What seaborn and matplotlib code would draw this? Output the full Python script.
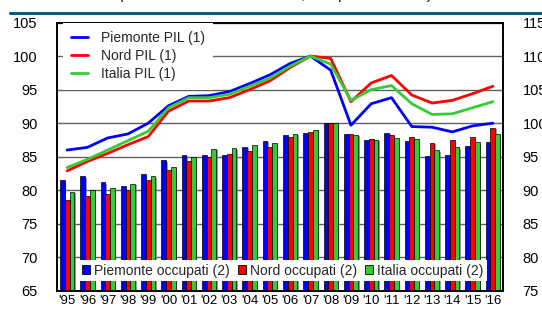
import matplotlib
matplotlib.use("Agg")
import matplotlib.pyplot as plt
import matplotlib.patheffects as pe
from matplotlib.lines import Line2D
from matplotlib.patches import Patch
import seaborn as sns
import pandas as pd
import numpy as np

years = ["'95", "'96", "'97", "'98", "'99", "'00", "'01", "'02", "'03", "'04", "'05",
         "'06", "'07", "'08", "'09", "'10", "'11", "'12", "'13", "'14", "'15", "'16"]

piemonte_pil = [86.0, 86.4, 87.8, 88.4, 90.0, 92.6, 94.0, 94.1, 94.7, 95.9, 97.2,
                98.9, 100.0, 97.9, 89.7, 92.9, 93.8, 89.5, 89.4, 88.7, 89.6, 90.0]
nord_pil = [82.9, 84.3, 85.5, 86.8, 88.0, 91.8, 93.3, 93.3, 93.8, 95.0, 96.3,
            98.3, 100.0, 99.65, 93.2, 96.0, 97.1, 94.2, 93.0, 93.4, 94.4, 95.5]
italia_pil = [83.4, 84.6, 86.0, 87.4, 88.8, 92.3, 93.8, 93.8, 94.3, 95.5, 96.7,
              98.5, 100.0, 98.8, 93.4, 95.0, 95.6, 92.9, 91.3, 91.4, 92.3, 93.2]

piemonte_occ = [91.5, 92.1, 91.2, 90.6, 92.4, 94.5, 95.3, 95.3, 95.3, 96.5, 97.4,
                98.3, 98.5, 100.0, 98.4, 97.5, 98.6, 97.4, 95.1, 95.3, 96.6, 97.2]
nord_occ = [88.5, 89.1, 89.4, 90.0, 91.5, 93.0, 94.3, 94.9, 95.4, 95.8, 96.5,
            98.0, 98.7, 100.0, 98.4, 97.7, 98.3, 97.9, 97.1, 97.5, 97.9, 99.3]
italia_occ = [89.8, 90.0, 90.3, 91.0, 92.1, 93.4, 95.0, 96.2, 96.3, 96.8, 97.0,
              98.4, 99.0, 100.0, 98.3, 97.5, 97.8, 97.6, 96.0, 96.4, 97.2, 98.4]

line_labels = ["Piemonte PIL (1)", "Nord PIL (1)", "Italia PIL (1)"]
bar_labels = ["Piemonte occupati (2)", "Nord occupati (2)", "Italia occupati (2)"]
colors = ["#0000FF", "#FF0000", "#33CC33"]

sns.set_theme(style="white")
plt.rcParams["font.family"] = ["Liberation Sans", "DejaVu Sans"]

fig = plt.figure(figsize=(5.42, 3.11), dpi=100)
ax = fig.add_axes([57/542, 1-291/311, 446/542, 268.5/311])
ax2 = ax.twinx()

# Bars (right axis)
n = len(years)
x = np.arange(n)
df_bar = pd.DataFrame({
    "x": np.tile(x, 3),
    "val": piemonte_occ + nord_occ + italia_occ,
    "serie": np.repeat(bar_labels, n),
})
sns.barplot(data=df_bar, x="x", y="val", hue="serie", hue_order=bar_labels,
            palette=dict(zip(bar_labels, colors)), width=0.7, ax=ax2,
            edgecolor="black", linewidth=0.5, saturation=1, legend=False,
            errorbar=None, native_scale=True)
for p in ax2.patches:
    p.set_path_effects([pe.SimplePatchShadow(offset=(1.1, -1.1), shadow_rgbFace="0.45", alpha=0.7),
                        pe.Normal()])
ax2.set_ylim(75, 115)
ax2.set_yticks(np.arange(75, 116, 5))
ax2.yaxis.grid(True, color="#606060", linewidth=1)
ax2.set_axisbelow(True)
ax2.set_ylabel("")
ax2.set_xlabel("")

# Lines (left axis)
df_line = pd.DataFrame({
    "x": np.tile(x, 3),
    "val": piemonte_pil + nord_pil + italia_pil,
    "serie": np.repeat(line_labels, n),
})
sns.lineplot(data=df_line, x="x", y="val", hue="serie", hue_order=line_labels,
             palette=dict(zip(line_labels, colors)), linewidth=2, ax=ax, legend=False)
ax.set_ylim(65, 105)
ax.set_yticks(np.arange(65, 106, 5))
ax.set_xlim(-0.5, n - 0.5)
ax.set_xticks(x)
ax.set_xticklabels(years)
ax.set_xlabel("")
ax.set_ylabel("")
ax.grid(False)
ax.set_zorder(ax2.get_zorder() + 1)
ax.patch.set_visible(False)
ax2.set_xlim(-0.5, n - 0.5)

for a in (ax, ax2):
    for s in a.spines.values():
        s.set_color("black")
        s.set_linewidth(1.2)
    a.tick_params(axis="both", length=0, labelsize=10.5, colors="black")
ax.tick_params(axis="y", pad=14)
ax2.tick_params(axis="y", pad=14)
ax.tick_params(axis="x", pad=3, labelsize=9.5)

# Legends
lh = [Line2D([0], [0], color=c, lw=2) for c in colors]
leg1 = ax.legend(lh, line_labels, loc="upper left", bbox_to_anchor=(0.013, 1.0),
                 borderaxespad=0, frameon=True, fancybox=False, framealpha=1,
                 facecolor="white", edgecolor="none", fontsize=10,
                 handlelength=1.25, handletextpad=0.9, labelspacing=0.3, borderpad=0.6)

bh = [Patch(facecolor=c, edgecolor="black", linewidth=0.6) for c in colors]
leg2 = ax2.legend(bh, bar_labels, loc="lower center", bbox_to_anchor=(0.506, 0.037),
                  borderaxespad=0, ncol=3, frameon=True, fancybox=False, framealpha=1,
                  facecolor="white", edgecolor="none", fontsize=10,
                  handlelength=0.6, handleheight=0.6, handletextpad=0.3,
                  columnspacing=0.55, borderpad=0.25)

# Header line and clipped subtitle
fig.add_artist(Line2D([10/542, 1.0], [1 - 12.7/311] * 2, color="#005a82", lw=2.2))
fig.text(0.51, 1 + 1.5/311, "(numeri indice: PIL 2007=100; occupati 2008=100)",
         ha="center", va="baseline", fontsize=10, fontstyle="italic", color="black")

fig.savefig("out.png", dpi=100)
